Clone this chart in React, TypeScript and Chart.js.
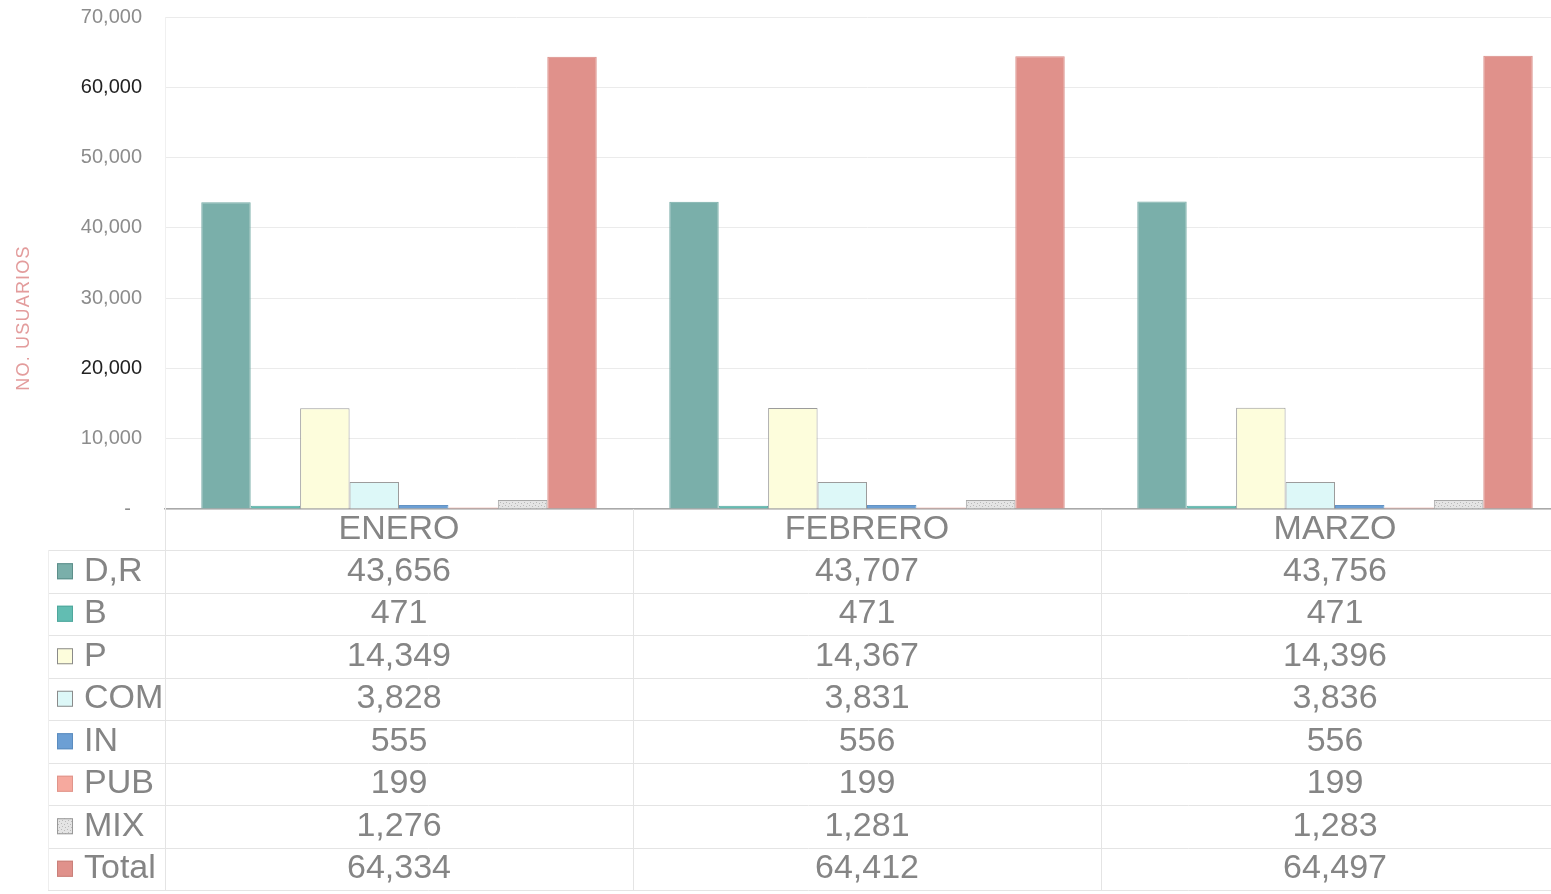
import React, { useEffect, useRef } from 'react';
import { Chart, registerables } from 'chart.js';

Chart.register(...registerables);

const months = ['ENERO', 'FEBRERO', 'MARZO'];
const seriesNames = ['D,R', 'B', 'P', 'COM', 'IN', 'PUB', 'MIX', 'Total'];
const drValues = [43656, 43707, 43756];
const bValues = [471, 471, 471];
const pValues = [14349, 14367, 14396];
const comValues = [3828, 3831, 3836];
const inValues = [555, 556, 556];
const pubValues = [199, 199, 199];
const mixValues = [1276, 1281, 1283];
const totalValues = [64334, 64412, 64497];
const yMax = 70000;
const yStep = 10000;
const yTitle = 'NO. USUARIOS';

const FONT = '"Liberation Sans", Arial, sans-serif';
const TEXT_GRAY = '#858585';

function makeMixPattern(): CanvasPattern | string {
  const c = document.createElement('canvas');
  c.width = 6;
  c.height = 6;
  const g = c.getContext('2d');
  if (!g) return '#dedede';
  g.fillStyle = '#e4e4e4';
  g.fillRect(0, 0, 6, 6);
  g.fillStyle = '#b9b9b9';
  g.fillRect(1, 1, 1, 1);
  g.fillRect(4, 2, 1, 1);
  g.fillRect(2, 4, 1, 1);
  g.fillRect(5, 5, 1, 1);
  const pat = g.createPattern(c, 'repeat');
  return pat || '#dedede';
}

const fmt = (v: number) => v.toLocaleString('en-US');

const tablePlugin = {
  id: 'dataTable',
  afterDraw(chart: any) {
    const { ctx, chartArea, scales } = chart;
    const xs = scales.x;
    const top = chartArea.bottom;
    const headerH = 41;
    const rowH = 42.5;
    const dsList = chart.data.datasets;
    const n = dsList.length;
    const tableLeft = 48;
    const right = chart.width;
    const bottom = top + headerH + n * rowH;
    ctx.save();
    ctx.strokeStyle = '#e4e4e4';
    ctx.lineWidth = 1;
    for (let i = 0; i <= n; i++) {
      const y = Math.round(top + headerH + i * rowH) + 0.5;
      ctx.beginPath();
      ctx.moveTo(tableLeft, y);
      ctx.lineTo(right, y);
      ctx.stroke();
    }
    const catW = (chartArea.right - chartArea.left) / months.length;
    for (let j = 0; j <= months.length; j++) {
      const x = Math.round(chartArea.left + j * catW) + 0.5;
      ctx.beginPath();
      ctx.moveTo(x, top);
      ctx.lineTo(x, bottom);
      ctx.stroke();
    }
    ctx.strokeStyle = '#eeeeee';
    ctx.beginPath();
    ctx.moveTo(tableLeft + 0.5, top + headerH);
    ctx.lineTo(tableLeft + 0.5, bottom);
    ctx.stroke();

    ctx.font = `34px ${FONT}`;
    ctx.textBaseline = 'middle';
    dsList.forEach((ds: any, i: number) => {
      const cy = top + headerH + i * rowH + rowH / 2;
      ctx.fillStyle = ds.backgroundColor;
      ctx.fillRect(57, cy - 8, 16, 16);
      ctx.strokeStyle = ds.legendBorder || ds.borderColor;
      ctx.lineWidth = 1;
      ctx.strokeRect(57.5, cy - 7.5, 15, 15);
      ctx.fillStyle = TEXT_GRAY;
      ctx.textAlign = 'left';
      ctx.fillText(ds.label, 84, cy);
      ctx.textAlign = 'center';
      ds.data.forEach((v: number, j: number) => {
        ctx.fillText(fmt(v), xs.getPixelForValue(j), cy);
      });
    });

    // y axis title
    ctx.save();
    ctx.translate(24, 318);
    ctx.rotate(-Math.PI / 2);
    ctx.font = `18px ${FONT}`;
    (ctx as any).letterSpacing = '1.2px';
    ctx.fillStyle = '#e39c9c';
    ctx.textAlign = 'center';
    ctx.textBaseline = 'middle';
    ctx.fillText(yTitle, 0, 0);
    ctx.restore();
    ctx.restore();
  },
};

export default function App() {
  const canvasRef = useRef<HTMLCanvasElement | null>(null);

  useEffect(() => {
    const canvas = canvasRef.current;
    if (!canvas) return;
    document.body.style.overflow = 'hidden';
    const mixPattern = makeMixPattern();
    const seriesData = [drValues, bValues, pValues, comValues, inValues, pubValues, mixValues, totalValues];
    const fills: any[] = ['#7aafaa', '#62bdb2', '#fdfddc', '#ddf8f8', '#6c9fd4', '#f6a99e', mixPattern, '#e0918b'];
    const borders = ['#74aaa5', '#58a89e', '#9c9c9c', '#9c9c9c', '#6393c4', '#e89a90', '#a8a8a8', '#d98c86'];
    const legendBorders = ['#5d8f8a', '#4fa79c', '#8a8a8a', '#8a8a8a', '#5b8cbf', '#e0958b', '#999999', '#c9807a'];

    const chart = new Chart(canvas, {
      type: 'bar',
      data: {
        labels: months,
        datasets: seriesNames.map((name, i) => ({
          label: name,
          data: seriesData[i],
          backgroundColor: fills[i],
          borderColor: borders[i],
          borderWidth: 1,
          legendBorder: legendBorders[i],
          categoryPercentage: 0.845,
          barPercentage: 1.0,
        })) as any,
      },
      options: {
        responsive: false,
        animation: false,
        layout: { padding: { top: 17, left: 0, right: 0, bottom: 0 } },
        plugins: {
          legend: { display: false },
          tooltip: { enabled: false },
        },
        scales: {
          x: {
            grid: { display: false, drawTicks: false },
            border: { display: true, color: '#a9a9a9', width: 1.5 },
            ticks: {
              color: TEXT_GRAY,
              font: { family: FONT, size: 34 },
              padding: 0,
            },
            afterFit: (scale: any) => {
              scale.height = 894 - 509;
              scale.paddingLeft = 0;
              scale.paddingRight = 0;
            },
          },
          y: {
            min: 0,
            max: yMax,
            grid: { color: '#ebebeb', drawTicks: false },
            border: { display: true, color: '#f0f0f0' },
            ticks: {
              stepSize: yStep,
              padding: 23,
              font: { family: FONT, size: 20 },
              color: (c: any) => (c.tick && (c.tick.value === 60000 || c.tick.value === 20000) ? '#222222' : '#8c8c8c'),
              callback: (v: any) => (Number(v) === 0 ? '-  ' : fmt(Number(v))),
            },
            afterFit: (scale: any) => {
              scale.width = 165;
              scale.paddingTop = 0;
              scale.paddingBottom = 0;
            },
          },
        },
      } as any,
      plugins: [tablePlugin],
    });
    return () => {
      chart.destroy();
    };
  }, []);

  return (
    <div style={{ position: 'absolute', left: 0, top: 0, width: 1551, height: 894, overflow: 'hidden', background: '#ffffff' }}>
      <canvas ref={canvasRef} width={1569} height={894} style={{ display: 'block' }} />
    </div>
  );
}
